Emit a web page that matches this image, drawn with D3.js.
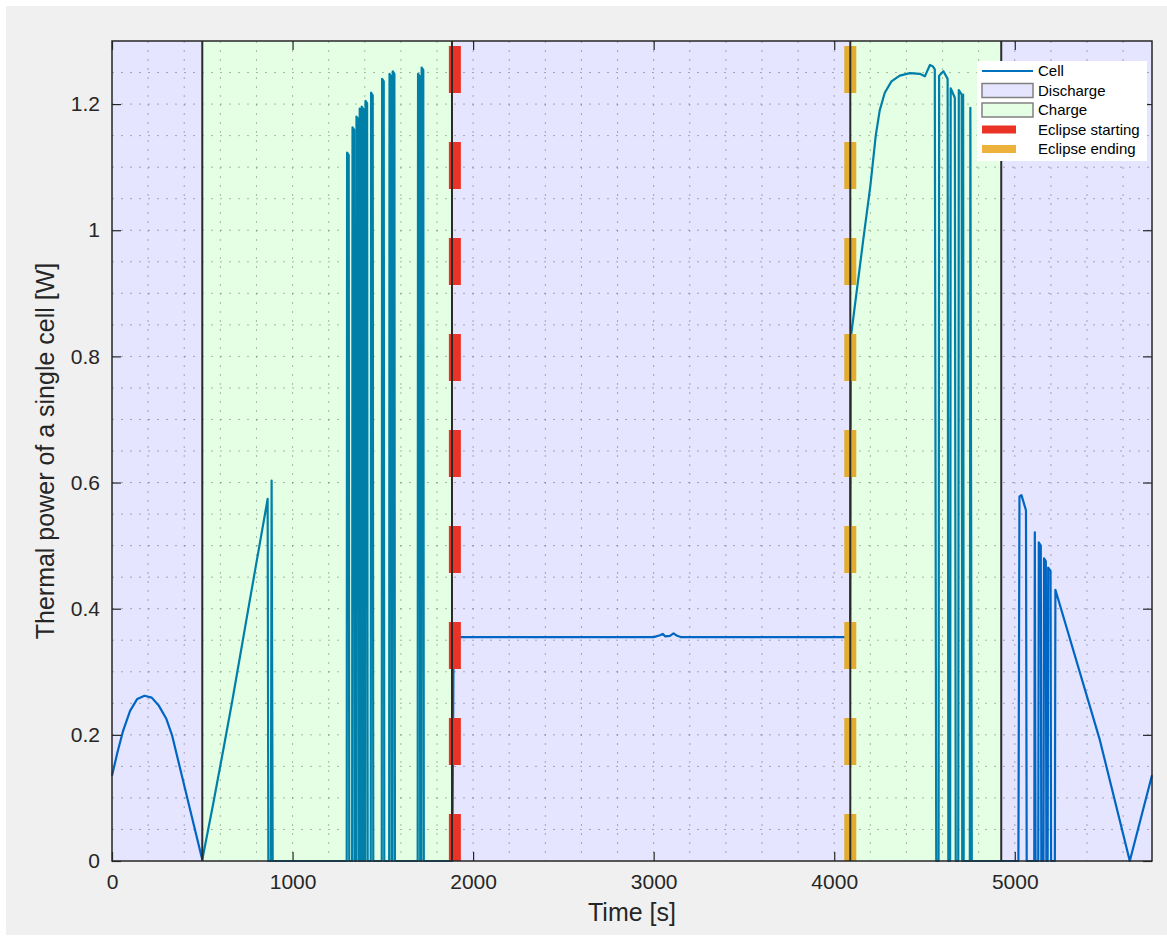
<!DOCTYPE html>
<html>
<head>
<meta charset="utf-8">
<script src="https://cdn.jsdelivr.net/npm/d3@7"></script>
<style>
  html, body { margin: 0; padding: 0; background: #ffffff; }
  svg { display: block; font-family: "Liberation Sans", Arial, Helvetica, sans-serif; }
</style>
</head>
<body>
<script>
// ---- data ----
var phaseBounds = [0, 500, 1883, 4089, 4925, 5760];
var phaseNames = ["Discharge", "Charge", "Discharge", "Charge", "Discharge"];
var eclipseStart = 1899;
var eclipseEnd = 4089;

// smooth parts of the cell curve
var timeS = [
	0, 30, 60, 100, 140, 180, 220, 260, 300, 332, 500,
	560, 620, 665, 760, 862, 866, 880, 884, 890, 1300
];
var powerW = [
	0.135, 0.172, 0.205, 0.238, 0.257, 0.262, 0.259, 0.246, 0.226, 0.2, 0.002,
	0.09, 0.182, 0.252, 0.408, 0.574, 0, 0, 0.603, 0, 0
];

// narrow spikes in the first charge window
var spikeTime = [1300, 1330, 1352, 1370, 1381, 1402, 1433, 1494, 1535, 1553, 1693, 1713];
var spikePeak = [1.123, 1.163, 1.180, 1.193, 1.196, 1.205, 1.218, 1.240, 1.248, 1.252, 1.248, 1.258];

// eclipse plateau and second charge window
var time2S = [
	1885, 1892, 3000, 3035, 3050, 3065, 3090, 3110, 3130, 3150, 4088,
	4092, 4160, 4200, 4230, 4252, 4280, 4317, 4363, 4419, 4474, 4502, 4530, 4545, 4557, 4565,
	4578, 4581, 4605, 4628, 4632,
	4642, 4645, 4668, 4673,
	4687, 4690, 4706, 4709,
	4711, 4714, 4717,
	4751, 4754, 4762,
	5020, 5026, 5037, 5062, 5066,
	5108, 5111, 5115,
	5130, 5133, 5144, 5147,
	5159, 5162, 5172, 5175,
	5182, 5185, 5198, 5201,
	5222, 5225, 5471, 5637, 5760
];
var power2W = [
	0, 0.355, 0.355, 0.358, 0.36, 0.356, 0.357, 0.361, 0.357, 0.355, 0.355,
	0.83, 0.983, 1.07, 1.15, 1.19, 1.218, 1.236, 1.245, 1.249, 1.248, 1.244, 1.262, 1.26, 1.255, 0,
	0, 1.245, 1.252, 1.24, 0,
	0, 1.225, 1.21, 0,
	0, 1.222, 1.215, 0,
	0, 1.215, 0,
	0, 1.194, 0,
	0, 0.578, 0.58, 0.556, 0,
	0, 0.521, 0,
	0, 0.505, 0.5, 0,
	0, 0.48, 0.475, 0,
	0, 0.465, 0.46, 0,
	0, 0.43, 0.192, 0, 0.136
];

var xTicks = [0, 1000, 2000, 3000, 4000, 5000];
var yTicks = [0, 0.2, 0.4, 0.6, 0.8, 1, 1.2];

// ---- build the series ----
var cellData = [];
for (var i = 0; i < timeS.length; i++) cellData.push([timeS[i], powerW[i]]);
for (var k = 0; k < spikeTime.length; k++) {
	cellData.push([spikeTime[k], 0]);
	cellData.push([spikeTime[k] + 2, spikePeak[k]]);
	cellData.push([spikeTime[k] + 11, spikePeak[k] - 0.004]);
	cellData.push([spikeTime[k] + 14, 0]);
}
for (var j = 0; j < time2S.length; j++) cellData.push([time2S[j], power2W[j]]);

// ---- canvas ----
var W = 1167, H = 938;
var margin = {left: 112, right: 1152, top: 41, bottom: 861};

var svg = d3.select("body").append("svg")
	.attr("width", W)
	.attr("height", H);

svg.append("rect").attr("x", 6).attr("y", 6).attr("width", W - 6).attr("height", 929)
	.style("fill", "#f0f0f0");

var x = d3.scaleLinear().domain([0, 5760]).range([margin.left, margin.right]);
var y = d3.scaleLinear().domain([0, 1.3]).range([margin.bottom, margin.top]);

svg.append("rect")
	.attr("x", margin.left).attr("y", margin.top)
	.attr("width", margin.right - margin.left).attr("height", margin.bottom - margin.top)
	.style("fill", "#ffffff");

// grid (dotted, major and minor alike)
var grid = svg.append("g");
grid.selectAll("line.gx")
	.data(d3.range(200, 5760, 200))
	.enter().append("line")
	.attr("x1", function(d){ return x(d) }).attr("x2", function(d){ return x(d) })
	.attr("y1", margin.top).attr("y2", margin.bottom);
grid.selectAll("line.gy")
	.data(d3.range(0.05, 1.3, 0.05))
	.enter().append("line")
	.attr("y1", function(d){ return y(d) }).attr("y2", function(d){ return y(d) })
	.attr("x1", margin.left).attr("x2", margin.right);
grid.selectAll("line")
	.style("stroke", "#7a7a7a")
	.style("stroke-width", 1)
	.style("stroke-dasharray", "2,7")
	.style("opacity", 0.55);

// cell power line
var line = d3.line()
	.x(function(d){ return x(d[0]) })
	.y(function(d){ return y(d[1]) });

svg.append("path")
	.datum(cellData)
	.attr("d", line)
	.style("fill", "none")
	.style("stroke", "#0072bd")
	.style("stroke-width", 2.2)
	.style("stroke-linejoin", "round");

// translucent phase patches drawn over the line
var phases = [];
for (var p = 0; p < phaseNames.length; p++) {
	phases.push({start: phaseBounds[p], end: phaseBounds[p + 1], name: phaseNames[p]});
}
var phaseFill = {"Discharge": "#0000ff", "Charge": "#00ff00"};

svg.selectAll("rect.phase")
	.data(phases)
	.enter().append("rect")
	.attr("class", "phase")
	.attr("x", function(d){ return x(d.start) })
	.attr("y", y(1.3))
	.attr("width", function(d){ return x(d.end) - x(d.start) })
	.attr("height", y(0) - y(1.3))
	.style("fill", function(d){ return phaseFill[d.name] })
	.style("fill-opacity", 0.1);

// eclipse markers
var eclipses = [
	{t: eclipseStart, color: "#ea3226"},
	{t: eclipseEnd, color: "#e2ac2c"}
];
svg.selectAll("line.ecl")
	.data(eclipses)
	.enter().append("line")
	.attr("x1", function(d){ return x(d.t) }).attr("x2", function(d){ return x(d.t) })
	.attr("y1", y(0)).attr("y2", y(1.3))
	.style("stroke", function(d){ return d.color })
	.style("stroke-width", 12)
	.style("stroke-dasharray", "47,49");

// patch edges (phase boundaries)
svg.selectAll("line.edge")
	.data(phaseBounds.slice(1, phaseBounds.length - 1))
	.enter().append("line")
	.attr("x1", function(d){ return x(d) }).attr("x2", function(d){ return x(d) })
	.attr("y1", margin.top).attr("y2", margin.bottom)
	.style("stroke", "#2a2a2a")
	.style("stroke-width", 2);

// axes
var tickFmt = function(d){ return d3.format("~g")(d) };
var axColor = "#262626";

var xAxis = svg.append("g").attr("transform", "translate(0," + margin.bottom + ")")
	.call(d3.axisBottom(x).tickValues(xTicks).tickSizeInner(-9).tickSizeOuter(0).tickPadding(16).tickFormat(tickFmt));
var xTop = svg.append("g").attr("transform", "translate(0," + margin.top + ")")
	.call(d3.axisTop(x).tickValues(xTicks).tickSizeInner(-9).tickSizeOuter(0).tickFormat(""));
var yAxis = svg.append("g").attr("transform", "translate(" + margin.left + ",0)")
	.call(d3.axisLeft(y).tickValues(yTicks).tickSizeInner(-9).tickSizeOuter(0).tickPadding(12).tickFormat(tickFmt));
var yRight = svg.append("g").attr("transform", "translate(" + margin.right + ",0)")
	.call(d3.axisRight(y).tickValues(yTicks).tickSizeInner(-9).tickSizeOuter(0).tickFormat(""));

[xAxis, xTop, yAxis, yRight].forEach(function(a){
	a.select(".domain").remove();
	a.selectAll(".tick line").style("stroke", axColor).style("stroke-width", 1.2);
	a.selectAll(".tick text").style("fill", axColor).style("font-size", "21px")
		.style("font-family", "'Liberation Sans', Arial, sans-serif");
});
xAxis.selectAll(".tick text").attr("dy", "0.55em");

svg.append("rect")
	.attr("x", margin.left).attr("y", margin.top)
	.attr("width", margin.right - margin.left).attr("height", margin.bottom - margin.top)
	.style("fill", "none")
	.style("stroke", axColor)
	.style("stroke-width", 1.5);

// axis labels
svg.append("text")
	.attr("x", (margin.left + margin.right) / 2)
	.attr("y", 921)
	.attr("text-anchor", "middle")
	.style("font-size", "25px")
	.style("fill", axColor)
	.text("Time [s]");

svg.append("text")
	.attr("transform", "translate(54," + ((margin.top + margin.bottom) / 2) + ") rotate(-90)")
	.attr("text-anchor", "middle")
	.style("font-size", "25px")
	.style("fill", axColor)
	.text("Thermal power of a single cell [W]");

// legend
var legend = svg.append("g").attr("transform", "translate(977,61)");
legend.append("rect").attr("width", 170).attr("height", 100).style("fill", "#ffffff");

var legendItems = [
	{label: "Cell", kind: "line", color: "#0072bd"},
	{label: "Discharge", kind: "patch", color: "#0000ff"},
	{label: "Charge", kind: "patch", color: "#00ff00"},
	{label: "Eclipse starting", kind: "bar", color: "#ea3226"},
	{label: "Eclipse ending", kind: "bar", color: "#ecb23c"}
];

var item = legend.selectAll("g.item")
	.data(legendItems)
	.enter().append("g")
	.attr("transform", function(d, i){ return "translate(0," + (10 + i * 19.5) + ")" });

item.each(function(d){
	var g = d3.select(this);
	if (d.kind === "line") {
		g.append("line").attr("x1", 5).attr("x2", 56).attr("y1", 0).attr("y2", 0)
			.style("stroke", d.color).style("stroke-width", 1.8);
	} else if (d.kind === "patch") {
		g.append("rect").attr("x", 5).attr("y", -7).attr("width", 51).attr("height", 14)
			.style("fill", d.color).style("fill-opacity", 0.1)
			.style("stroke", "#808080").style("stroke-width", 1.5);
	} else {
		g.append("rect").attr("x", 5).attr("y", -4).attr("width", 34).attr("height", 8)
			.style("fill", d.color);
	}
	g.append("text").attr("x", 61).attr("y", 0).attr("dy", "0.35em")
		.style("font-size", "15px").style("fill", "#000")
		.text(d.label);
});
</script>
</body>
</html>
